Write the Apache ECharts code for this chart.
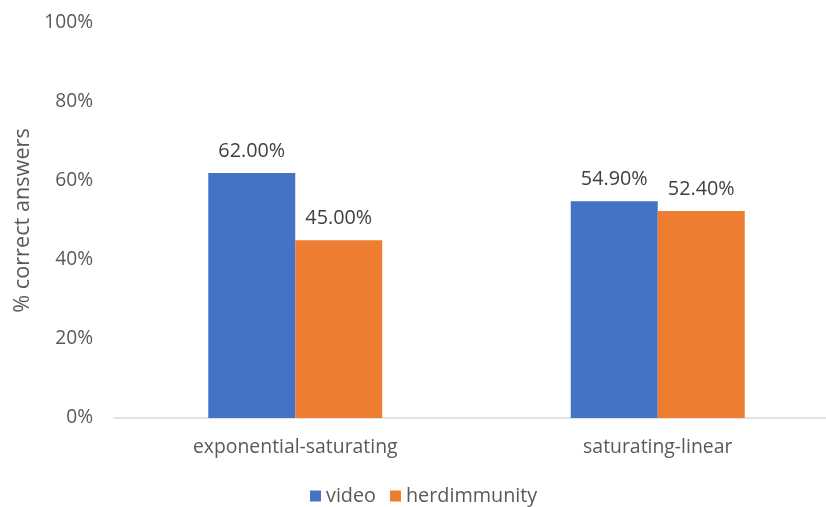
<!DOCTYPE html>
<html>
<head>
<meta charset="utf-8">
<script src="https://cdn.jsdelivr.net/npm/echarts@6/dist/echarts.min.js"></script>
<style>
  html, body { margin: 0; padding: 0; background: #fff; overflow: hidden; }
  #chart { width: 839px; height: 507px; }
</style>
</head>
<body>
<div id="chart"></div>
<script>
const categories = ['exponential-saturating', 'saturating-linear'];
const seriesNames = ['video', 'herdimmunity'];
const videoValues = [62.0, 54.9];
const herdValues = [45.0, 52.4];
const yTicks = [0, 20, 40, 60, 80, 100];
const colors = ['#4472c4', '#ed7d31'];

const font = '"Open Sans", Lato, sans-serif';
const chart = echarts.init(document.getElementById('chart'));

const makeSeries = (name, data, i) => ({
  name: name,
  type: 'bar',
  data: data,
  barGap: 0,
  barCategoryGap: '52%',
  itemStyle: { color: colors[i] },
  label: {
    show: true,
    position: 'top',
    distance: 12,
    color: '#404040',
    fontFamily: font,
    fontSize: 19.8,
    formatter: p => p.value.toFixed(2) + '%'
  }
});

chart.setOption({
  animation: false,
  grid: { left: 114, right: 0, top: 23, bottom: 89 },
  legend: {
    data: seriesNames,
    top: 481,
    left: 305,
    itemWidth: 11,
    itemHeight: 11,
    itemGap: 14,
    icon: 'rect',
    textStyle: { color: '#595959', fontFamily: font, fontSize: 19.8 }
  },
  xAxis: {
    type: 'category',
    data: categories,
    axisTick: { show: false },
    axisLine: { lineStyle: { color: '#d9d9d9', width: 1.5 } },
    axisLabel: { color: '#595959', fontFamily: font, fontSize: 19.4, margin: 20 }
  },
  yAxis: {
    type: 'value',
    min: 0,
    max: 100,
    interval: 20,
    name: '% correct answers',
    nameLocation: 'middle',
    nameGap: 80,
    nameTextStyle: { color: '#595959', fontFamily: font, fontSize: 21.7 },
    axisLine: { show: false },
    axisTick: { show: false },
    splitLine: { show: false },
    axisLabel: {
      color: '#595959',
      fontFamily: font,
      fontSize: 19.2,
      margin: 21,
      formatter: v => yTicks.includes(v) ? v + '%' : ''
    }
  },
  series: [
    makeSeries(seriesNames[0], videoValues, 0),
    makeSeries(seriesNames[1], herdValues, 1)
  ]
});
</script>
</body>
</html>
